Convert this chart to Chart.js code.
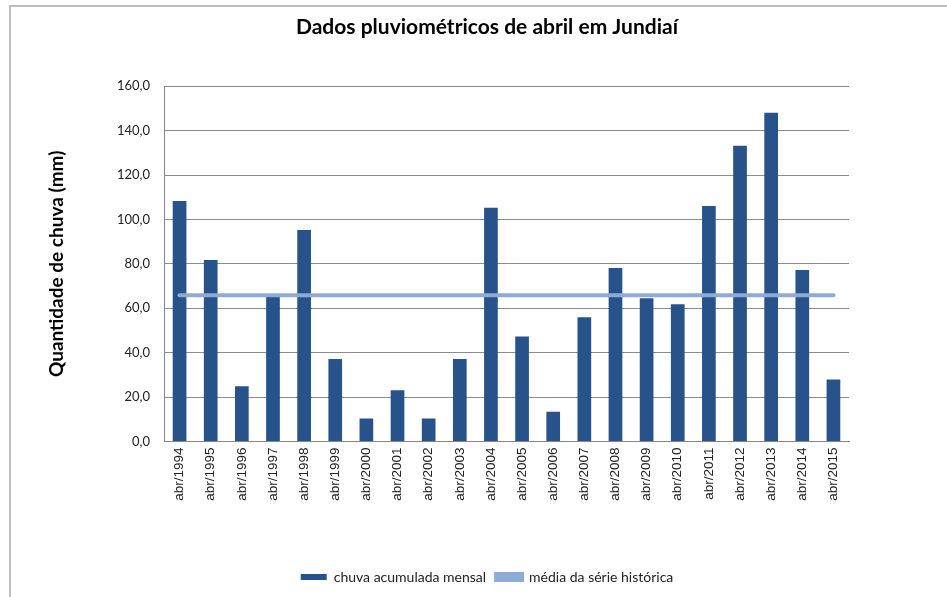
<!DOCTYPE html>
<html>
<head>
<meta charset="utf-8">
<script src="https://cdn.jsdelivr.net/npm/chart.js@4/dist/chart.umd.min.js"></script>
<style>
    body { margin: 0; background: #fff; }
    #wrap { position: relative; width: 947px; height: 597px; overflow: hidden; }
    #moldura { position: absolute; left: 9px; top: 5px; width: 1000px; height: 700px; border: 2px solid #bdbdbd; box-sizing: border-box; }
    #grafico { position: absolute; left: 0; top: 0; }
</style>
</head>
<body>
<div id="wrap">
    <div id="moldura"></div>
    <canvas id="grafico" width="947" height="597"></canvas>
</div>
<script>
// dados
const meses = ['abr/1994', 'abr/1995', 'abr/1996', 'abr/1997', 'abr/1998', 'abr/1999', 'abr/2000', 'abr/2001',
    'abr/2002', 'abr/2003', 'abr/2004', 'abr/2005', 'abr/2006', 'abr/2007', 'abr/2008', 'abr/2009', 'abr/2010',
    'abr/2011', 'abr/2012', 'abr/2013', 'abr/2014', 'abr/2015'];
const chuvaMensal = [108.3, 81.7, 24.9, 65.4, 95.2, 37.1, 10.4, 23.1, 10.4, 37.1, 105.3,
    47.3, 13.4, 55.9, 78.1, 64.5, 61.8, 106.1, 133.2, 148.1, 77.2, 27.9];
const mediaHistorica = [65.9, 65.9, 65.9, 65.9, 65.9, 65.9, 65.9, 65.9, 65.9, 65.9, 65.9,
    65.9, 65.9, 65.9, 65.9, 65.9, 65.9, 65.9, 65.9, 65.9, 65.9, 65.9];
const yTickLabels = ['0,0', '20,0', '40,0', '60,0', '80,0', '100,0', '120,0', '140,0', '160,0'];

document.addEventListener("DOMContentLoaded", () => {
    const ctx = document.getElementById('grafico').getContext('2d');

    new Chart(ctx, {
        data: {
            labels: meses,
            datasets: [
                {
                    type: 'line',
                    label: 'média da série histórica',
                    data: mediaHistorica,
                    borderColor: '#8eabd8',
                    backgroundColor: '#8eabd8',
                    borderWidth: 4,
                    borderCapStyle: 'round',
                    pointRadius: 0,
                    order: 1
                },
                {
                    type: 'bar',
                    label: 'chuva acumulada mensal',
                    data: chuvaMensal,
                    backgroundColor: '#27538a',
                    barPercentage: 0.44,
                    categoryPercentage: 1,
                    order: 2
                }
            ]
        },
        options: {
            responsive: false,
            animation: false,
            layout: { padding: { left: 27, right: 0, top: 0, bottom: 3 } },
            plugins: {
                title: {
                    display: true,
                    text: 'Dados pluviométricos de abril em Jundiaí',
                    color: '#000',
                    font: { family: 'Lato', size: 21, weight: 'bold' },
                    padding: { top: 15, bottom: 46 }
                },
                legend: {
                    position: 'bottom',
                    reverse: true,
                    labels: {
                        color: '#222',
                        font: { family: 'Lato', size: 14 },
                        boxWidth: 26,
                        boxHeight: 6,
                        padding: 10
                    }
                },
                tooltip: { enabled: false }
            },
            scales: {
                x: {
                    grid: { display: false, drawTicks: false },
                    border: { display: true, color: '#868686' },
                    ticks: {
                        autoSkip: false,
                        minRotation: 90,
                        maxRotation: 90,
                        padding: 6,
                        color: '#222',
                        font: { family: 'Liberation Sans', size: 13.5 },
                    },
                    afterFit: (scale) => { scale.height = 118.5; }
                },
                y: {
                    min: 0,
                    max: 160,
                    grid: { color: '#8c8c8c', drawTicks: false },
                    border: { display: true, color: '#868686' },
                    ticks: {
                        stepSize: 20,
                        padding: 14,
                        color: '#222',
                        font: { family: 'Lato', size: 13 },
                        callback: (v, i) => yTickLabels[i]
                    },
                    title: {
                        display: true,
                        text: 'Quantidade de chuva (mm)',
                        color: '#000',
                        font: { family: 'Lato', size: 19, weight: 'bold' },
                        padding: { top: 18, bottom: 0 }
                    },
                    afterFit: (scale) => { scale.width = 137; }
                },
                // eixo vazio à direita, só para reservar o espaço
                yVazio: {
                    position: 'right',
                    min: 0,
                    max: 1,
                    grid: { display: false, drawTicks: false },
                    border: { display: false },
                    ticks: { display: false },
                    afterFit: (scale) => { scale.width = 98; }
                }
            }
        }
    });
});
</script>
</body>
</html>
